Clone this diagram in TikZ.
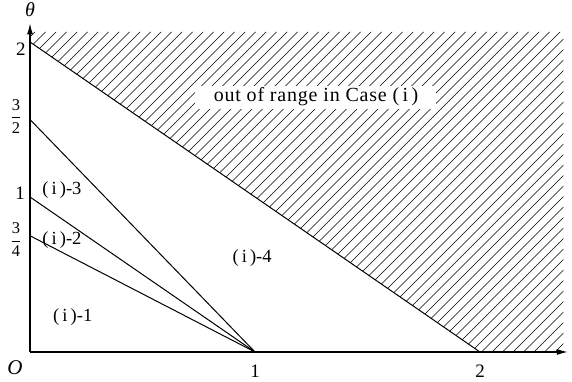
\documentclass[tikz,border=0pt]{standalone}
\usepackage{fontspec}
\newfontfamily\labfont{Liberation Serif}
\newfontfamily\boxfont[LetterSpace=4]{Liberation Serif}
\newcommand\fracdigit[1]{\hbox{\labfont\fontsize{16.5}{18}\selectfont #1}}
\usetikzlibrary{arrows.meta}
\begin{document}
\begin{tikzpicture}[x=225pt,y=155pt,
  axis/.style={line width=1.2pt,-{Latex[length=11pt,width=6pt]}},
  bound/.style={line width=1pt},
  hatchline/.style={line width=0.6pt},
  ticklab/.style={font=\labfont\fontsize{19}{21}\selectfont,inner sep=0pt},
  fraclab/.style={font=\labfont\fontsize{16.5}{18}\selectfont,inner sep=0pt},
  reglab/.style={font=\labfont\fontsize{18.5}{20}\selectfont,inner sep=0pt},
  boxlab/.style={font=\boxfont\fontsize{20}{22}\selectfont,fill=white,minimum width=241pt,minimum height=23pt,inner sep=0pt}]
\useasboundingbox (-30pt,-30pt) rectangle (542pt,352pt);
% hatched region
\begin{scope}
  \clip (0,2) -- (0,2.065) -- (2.37,2.065) -- (2.37,0) -- (2,0) -- cycle;
  \foreach \i in {-45,...,55}
    \draw[hatchline] ([xshift=\i*10.5pt]0,0) -- ++(420pt,420pt);
\end{scope}
% axes
\coordinate (O) at (0,0);
\coordinate (xend) at (2.39,0);
\coordinate (yend) at (0,2.12);
\draw[axis] (O) -- (xend);
\draw[axis] (O) -- (yend);
% points
\coordinate (y2) at (0,2);
\coordinate (y32) at (0,1.5);
\coordinate (y1) at (0,1);
\coordinate (y34) at (0,0.75);
\coordinate (x1) at (1,0);
\coordinate (x2) at (2,0);
% lines
\draw[bound] (y2) -- (x2);
\draw[bound] (y32) -- (x1);
\draw[bound] (y1) -- (x1);
\draw[bound] (y34) -- (x1);
% axis labels
\node[font=\labfont\itshape\fontsize{20}{22}\selectfont,inner sep=0pt] (theta) at (0,2.21) {θ};
\node[font=\labfont\itshape\fontsize{21}{23}\selectfont,inner sep=0pt] (Olab) at (-15pt,-16pt) {O};
\node[ticklab] at ([xshift=-9pt,yshift=-7pt]y2) (l2) {2};
\node[fraclab] at ([xshift=-14pt,yshift=3pt]y32) (l32) {$\displaystyle{\fracdigit{3}\over\fracdigit{2}}$};
\node[ticklab] at ([xshift=-10pt,yshift=4pt]y1) (l1) {1};
\node[fraclab] at ([xshift=-14pt,yshift=-4pt]y34) (l34) {$\displaystyle{\fracdigit{3}\over\fracdigit{4}}$};
\node[ticklab] at ([yshift=-19pt]x1) (lx1) {1};
\node[ticklab] at ([yshift=-19pt]x2) (lx2) {2};
% region labels
\node[reglab] (r1) at (0.19,0.226) {(\,i\,)-1};
\node[reglab] (r2) at (0.142,0.72) {(\,i\,)-2};
\node[reglab] (r3) at (0.142,1.045) {(\,i\,)-3};
\node[reglab] (r4) at (0.987,0.606) {(\,i\,)-4};
\node[boxlab] (out) at (1.271,1.645) {out of range in Case (\,i\,)};
\end{tikzpicture}
\end{document}
